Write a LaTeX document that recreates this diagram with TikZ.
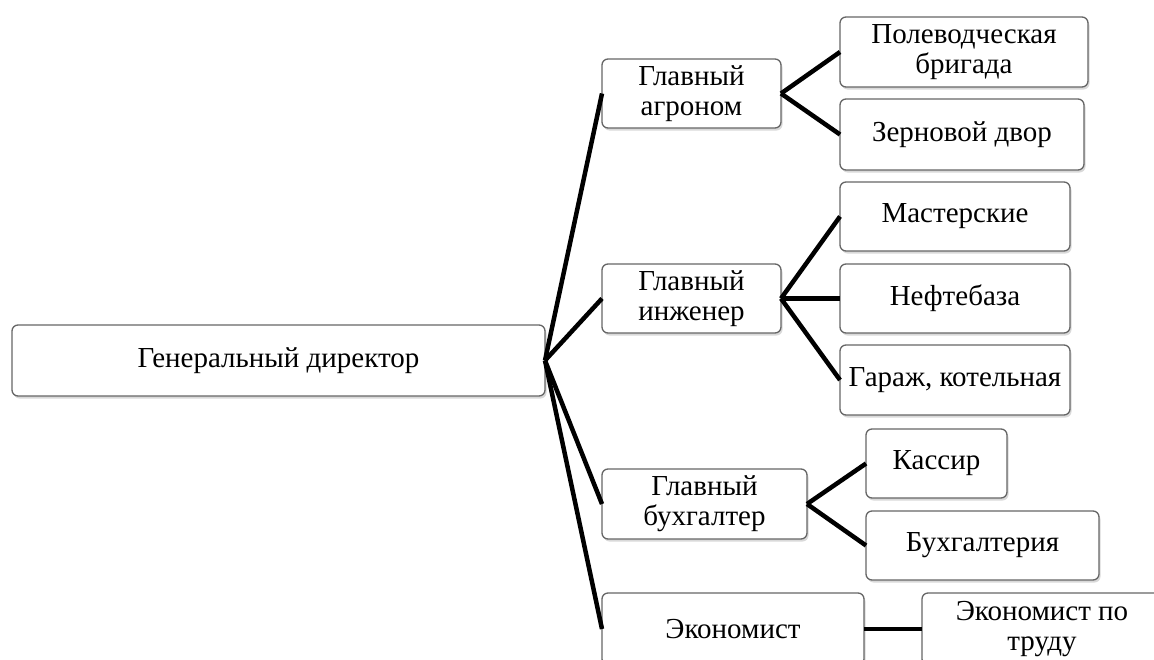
\documentclass[tikz,border=0pt]{standalone}
\usepackage{fontspec}
\setmainfont{Liberation Serif}
\usetikzlibrary{shadows}

\begin{document}
\begin{tikzpicture}[x=1pt, y=-1pt,
    box/.style={draw=gray!80!black, line width=1.3pt, fill=white, rounded corners=6pt,
        drop shadow={shadow xshift=1.5pt, shadow yshift=-2.5pt, opacity=0.3},
        align=center, inner sep=0pt, outer sep=0pt, font=\fontsize{29}{30}\selectfont},
    size/.style 2 args={minimum width=#1pt, minimum height=#2pt},
    link/.style={line width=4.5pt, black}]
        \clip (0,0) rectangle (1154,659);

        % top level
        \node (gd) [box, size={533}{71}] at (278.5,360.5) {Генеральный директор};

        % second level
        \node (agr) [box, size={179}{69}] at (691.5,93.5) {Главный\\агроном};
        \node (ing) [box, size={179}{69}] at (691.5,298.5) {Главный\\инженер};
        \node (buh) [box, size={205}{70}] at (704.5,504) {Главный\\бухгалтер};
        \node (eco) [box, size={262}{72}] at (733,629) {Экономист};

        % third level
        \node (pol) [box, size={248}{70}] at (964,52) {Полеводческая\\бригада};
        \node (zer) [box, size={244}{71}] at (962,134.5) {Зерновой двор};
        \node (mas) [box, size={230}{69}] at (955,216.5) {Мастерские};
        \node (nef) [box, size={230}{69}] at (955,298.5) {Нефтебаза};
        \node (gar) [box, size={230}{70}] at (955,380) {Гараж, котельная};
        \node (kas) [box, size={141}{69}] at (936.5,463.5) {Кассир};
        \node (bhg) [box, size={233}{69}] at (982.5,545.5) {Бухгалтерия};
        \node (ect) [box, size={240}{72}] at (1042,629) {Экономист по\\труду};

        \draw[link] (gd.east) -- (agr.west);
        \draw[link] (gd.east) -- (ing.west);
        \draw[link] (gd.east) -- (buh.west);
        \draw[link] (gd.east) -- (eco.west);

        \draw[link] (agr.east) -- (pol.west);
        \draw[link] (agr.east) -- (zer.west);
        \draw[link] (ing.east) -- (mas.west);
        \draw[link] (ing.east) -- (nef.west);
        \draw[link] (ing.east) -- (gar.west);
        \draw[link] (buh.east) -- (kas.west);
        \draw[link] (buh.east) -- (bhg.west);
        \draw[link] (eco.east) -- (ect.west);
    \end{tikzpicture}
\end{document}
